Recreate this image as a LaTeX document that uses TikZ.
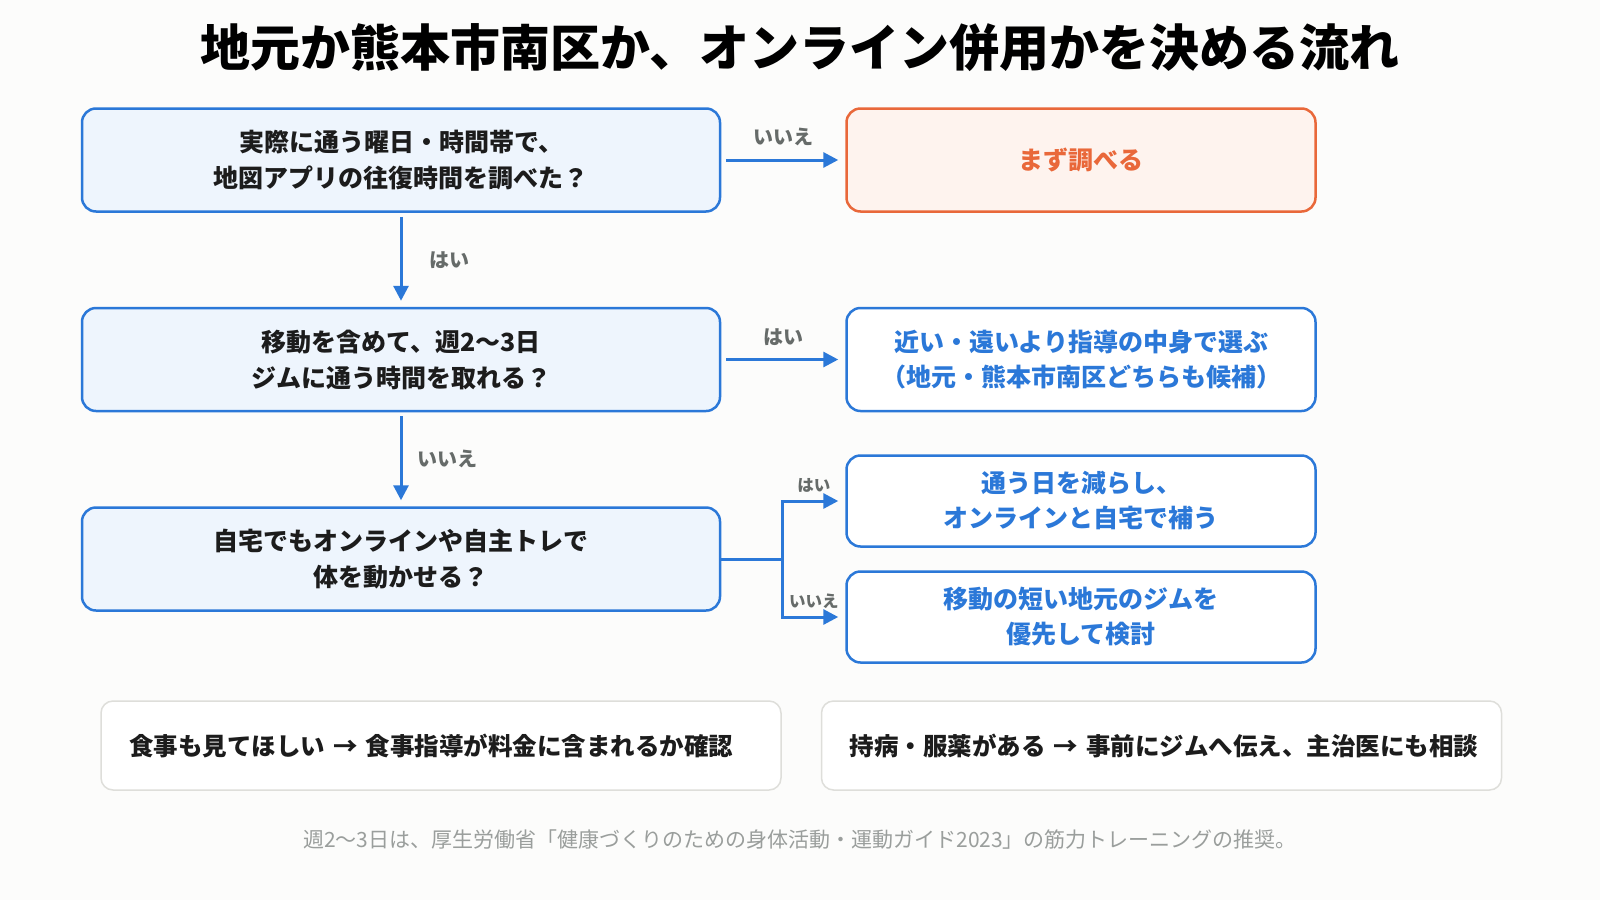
\documentclass[tikz,border=0pt]{standalone}
\usepackage{fontspec}
\setmainfont{Noto Sans CJK JP}
\usetikzlibrary{positioning,arrows.meta}

\definecolor{flowblue}{HTML}{2B78D8}
\definecolor{qfill}{HTML}{EEF5FD}
\definecolor{warnorange}{HTML}{E9683A}
\definecolor{warnfill}{HTML}{FEF3EE}
\definecolor{labelgray}{HTML}{666B69}
\definecolor{notegray}{HTML}{DEDEDA}
\definecolor{footgray}{HTML}{9A9E9C}
\definecolor{bgpaper}{HTML}{FCFCFB}
\definecolor{inkdark}{HTML}{1C1C1C}

\begin{document}
\begin{tikzpicture}[x=1pt, y=1pt,
	question/.style={rectangle, rounded corners=14pt, draw=flowblue, line width=2.5pt, fill=qfill, text=inkdark, minimum width=638pt, minimum height=103pt, inner sep=0pt, align=center, font=\fontsize{25}{36}\selectfont\bfseries},
	answer/.style={rectangle, rounded corners=14pt, draw=flowblue, line width=2.5pt, fill=white, text=flowblue, minimum width=469pt, minimum height=103pt, inner sep=0pt, align=center, font=\fontsize{25}{35}\selectfont\bfseries},
	warn/.style={answer, draw=warnorange, fill=warnfill, text=warnorange},
	short/.style={minimum height=91pt},
	note/.style={rectangle, rounded corners=12pt, draw=notegray, line width=1.5pt, fill=white, text=inkdark, minimum width=680pt, minimum height=89pt, inner sep=0pt, text width=624pt, align=left, font=\fontsize{24.5}{30}\selectfont\bfseries},
	reply/.style={text=labelgray, font=\fontsize{20}{22}\selectfont\bfseries},
	smallreply/.style={text=labelgray, font=\fontsize{16.5}{18}\selectfont\bfseries},
	flow/.style={draw=flowblue, line width=3pt, -{Triangle[length=15pt,width=15pt]}}
	]

	% page
	\fill[bgpaper] (0,0) rectangle (1600,-900);
	\useasboundingbox (0,0) rectangle (1600,-900);

	\node (title) at (800,-48) {\fontsize{50}{54}\selectfont\bfseries 地元か熊本市南区か、オンライン併用かを決める流れ};

	% questions
	\node (survey) [question] at (401,-160) {実際に通う曜日・時間帯で、\\地図アプリの往復時間を調べた？};
	\node (weekly) [question, below=94pt of survey] {移動を含めて、週2〜3日\\ジムに通う時間を取れる？};
	\node (athome) [question, below=94pt of weekly] {自宅でもオンラインや自主トレで\\体を動かせる？};

	% outcomes
	\node (checkfirst) [warn, right=124pt of survey] {まず調べる};
	\node (choose) [answer, right=124pt of weekly] {近い・遠いより指導の中身で選ぶ\\（地元・熊本市南区どちらも候補）};
	\node (reduce) [answer, short, right=124pt of athome, yshift=58pt] {通う日を減らし、\\オンラインと自宅で補う};
	\node (local) [answer, short, right=124pt of athome, yshift=-58pt] {移動の短い地元のジムを\\優先して検討};

	% arrows
	\draw [flow, shorten <=5pt, shorten >=7pt] (survey.east) -- node[reply, above=9pt] {いいえ} (checkfirst.west);
	\draw [flow, shorten <=4pt, shorten >=6pt] (survey.south) -- node[reply, right=24pt] {はい} (weekly.north);
	\draw [flow, shorten <=5pt, shorten >=7pt] (weekly.east) -- node[reply, above=9pt] {はい} (choose.west);
	\draw [flow, shorten <=4pt, shorten >=6pt] (weekly.south) -- node[reply, right=12pt] {いいえ} (athome.north);

	\coordinate (fork) at ([xshift=61pt]athome.east);
	\draw [draw=flowblue, line width=3pt] (athome.east) -- (fork);
	\draw [flow, shorten >=7pt] (fork) |- node[smallreply, pos=0.75, above=4pt] {はい} (reduce.west);
	\draw [flow, shorten >=7pt] (fork) |- node[smallreply, pos=0.75, above=4pt] {いいえ} (local.west);

	% notes
	\node (meals) [note] at (441,-745.5) {食事も見てほしい → 食事指導が料金に含まれるか確認};
	\node (illness) [note, right=39pt of meals] {持病・服薬がある → 事前にジムへ伝え、主治医にも相談};

	\node (source) [text=footgray, font=\fontsize{21}{24}\selectfont] at (800,-840) {週2〜3日は、厚生労働省「健康づくりのための身体活動・運動ガイド2023」の筋力トレーニングの推奨。};

\end{tikzpicture}
\end{document}
